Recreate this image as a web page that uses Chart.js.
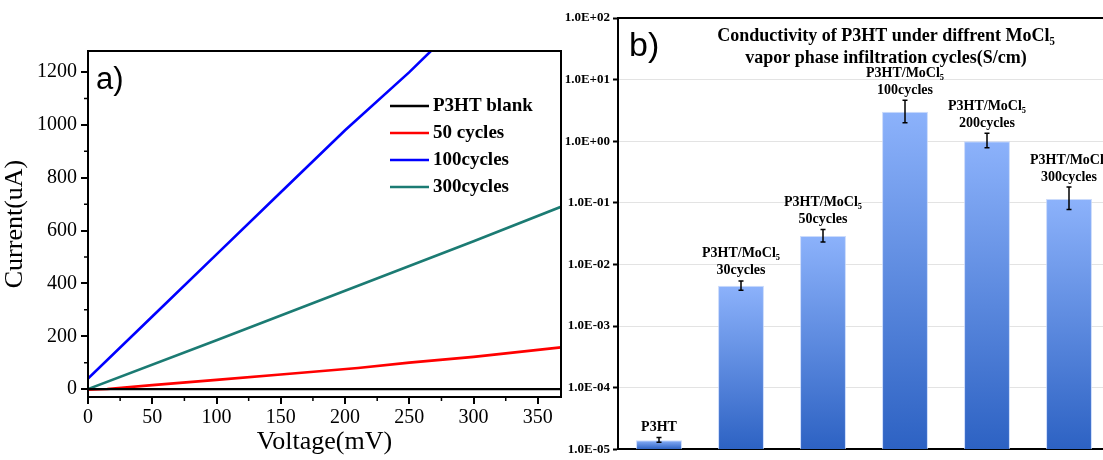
<!DOCTYPE html>
<html lang="en">
<head>
<meta charset="UTF-8">
<title>P3HT / MoCl5 conductivity</title>
<style>
    body {
        margin: 0;
        padding: 0;
        background: #fff;
        width: 1103px;
        height: 460px;
        overflow: hidden;
        position: relative;
    }
    #wrapA { position: absolute; left: 0; top: 0; width: 566px; height: 460px; }
    #wrapB { position: absolute; left: 560px; top: 0; width: 550px; height: 460px; }
</style>
<script src="https://cdn.jsdelivr.net/npm/chart.js"></script>
</head>
<body>
<div id="wrapA"><canvas id="chartA"></canvas></div>
<div id="wrapB"><canvas id="chartB"></canvas></div>
<script>
// ---- panel a) I-V curves ----
var seriesNames = ['P3HT blank', '50 cycles', '100cycles', '300cycles'];
var seriesColors = ['#000000', '#ff0000', '#0000ff', '#1b7b73'];
var voltBlank = [0, 368];
var currBlank = [0, 0];
var volt50 = [0, 15, 50, 100, 150, 210, 250, 300, 368];
var curr50 = [-2, 0, 15, 35, 55, 80, 100, 122, 158];
var volt100 = [0, 50, 100, 150, 200, 250, 290];
var curr100 = [40, 275, 510, 745, 980, 1200, 1390];
var volt300 = [0, 100, 200, 300, 368];
var curr300 = [0, 185, 372, 560, 690];
var voltTicks = [0, 50, 100, 150, 200, 250, 300, 350];
var currTicks = [0, 200, 400, 600, 800, 1000, 1200];

// ---- panel b) conductivity ----
var barLabels = [
    ['P3HT'],
    ['P3HT/MoCl\u2085', '30cycles'],
    ['P3HT/MoCl\u2085', '50cycles'],
    ['P3HT/MoCl\u2085', '100cycles'],
    ['P3HT/MoCl\u2085', '200cycles'],
    ['P3HT/MoCl\u2085', '300cycles']
];
var conductivity = [1.4e-5, 4.5e-3, 2.9e-2, 3.0, 1.0, 0.115];
var errLow = [1.3e-5, 3.8e-3, 2.3e-2, 2.0, 0.78, 0.078];
var errHigh = [1.55e-5, 5.4e-3, 3.7e-2, 4.6, 1.35, 0.18];
var decadeTicks = [1e-5, 1e-4, 1e-3, 1e-2, 1e-1, 1e0, 1e1, 1e2];
var titleLines = ['Conductivity of P3HT under diffrent MoCl\u2085', 'vapor phase infiltration cycles(S/cm)'];

var serif = "'Liberation Serif', 'Times New Roman', serif";
var sans = "'Liberation Sans', Arial, sans-serif";

function toPoints(xs, ys) {
    return xs.map(function (x, i) { return { x: x, y: ys[i] }; });
}

var xsAll = [voltBlank, volt50, volt100, volt300];
var ysAll = [currBlank, curr50, curr100, curr300];

// frame, minor ticks, legend and "a)" for the left panel
var panelAExtras = {
    id: 'panelAExtras',
    afterDraw: function (chart) {
        var c = chart.ctx, a = chart.chartArea;
        var xs = chart.scales.x, ys = chart.scales.y;
        c.save();
        c.strokeStyle = '#000';
        c.lineWidth = 2;
        c.strokeRect(a.left, a.top, a.right - a.left, a.bottom - a.top);

        // minor ticks
        c.lineWidth = 1.5;
        c.beginPath();
        for (var v = 100; v < 1300; v += 200) {
            var py = ys.getPixelForValue(v);
            c.moveTo(a.left, py); c.lineTo(a.left - 4, py);
        }
        for (var u = 25; u < 368; u += 50) {
            var px = xs.getPixelForValue(u);
            c.moveTo(px, a.bottom); c.lineTo(px, a.bottom + 4);
        }
        c.stroke();

        // legend
        c.font = 'bold 19px ' + serif;
        c.textBaseline = 'middle';
        c.textAlign = 'left';
        chart.data.datasets.forEach(function (ds, i) {
            var y = 106 + i * 27;
            c.strokeStyle = ds.borderColor;
            c.lineWidth = 2.5;
            c.beginPath();
            c.moveTo(390, y); c.lineTo(429, y);
            c.stroke();
            c.fillStyle = '#000';
            c.fillText(ds.label, 433, y);
        });

        c.font = '31px ' + sans;
        c.fillText('a)', 96, 80);
        c.restore();
    }
};

new Chart(document.getElementById('chartA').getContext('2d'), {
    type: 'line',
    data: {
        datasets: seriesNames.map(function (name, i) {
            return {
                label: name,
                data: toPoints(xsAll[i], ysAll[i]),
                borderColor: seriesColors[i],
                borderWidth: i === 0 ? 2.2 : 2.6,
                pointRadius: 0,
                tension: 0
            };
        })
    },
    options: {
        responsive: true,
        maintainAspectRatio: false,
        animation: false,
        layout: { padding: { top: 51, right: 5, left: 0, bottom: 0 } },
        plugins: { legend: { display: false }, tooltip: { enabled: false } },
        scales: {
            x: {
                type: 'linear',
                min: 0,
                max: 368,
                afterBuildTicks: function (s) { s.ticks = voltTicks.map(function (v) { return { value: v }; }); },
                afterFit: function (s) { s.height = 63; },
                ticks: { color: '#000', font: { family: serif, size: 20 }, padding: 2, callback: function (v) { return String(v); } },
                grid: { display: true, drawOnChartArea: false, tickLength: 7, color: '#000', lineWidth: 2 },
                border: { color: '#000', width: 2 },
                title: { display: true, text: 'Voltage(mV)', color: '#000', font: { family: serif, size: 26 }, padding: { top: 0, bottom: 2 } }
            },
            y: {
                type: 'linear',
                min: -30,
                max: 1280,
                afterBuildTicks: function (s) { s.ticks = currTicks.map(function (v) { return { value: v }; }); },
                afterFit: function (s) { s.width = 88; },
                ticks: { color: '#000', font: { family: serif, size: 20 }, padding: 4, callback: function (v) { return String(v); } },
                grid: { display: true, drawOnChartArea: false, tickLength: 7, color: '#000', lineWidth: 2 },
                border: { color: '#000', width: 2 },
                title: { display: true, text: 'Current(uA)', color: '#000', font: { family: serif, size: 26 }, padding: { top: 0, bottom: 0 } }
            }
        }
    },
    plugins: [panelAExtras]
});

// error bars, labels and title for the right panel
var panelBExtras = {
    id: 'panelBExtras',
    afterDatasetsDraw: function (chart) {
        var c = chart.ctx, a = chart.chartArea, ys = chart.scales.y;
        var meta = chart.getDatasetMeta(0);
        c.save();
        // top border at 1.0E+02
        c.strokeStyle = '#000';
        c.lineWidth = 2;
        c.beginPath();
        c.moveTo(a.left, a.top); c.lineTo(a.right, a.top);
        c.stroke();

        c.lineWidth = 1.5;
        c.font = 'bold 14px ' + serif;
        c.textAlign = 'center';
        c.textBaseline = 'middle';
        c.fillStyle = '#000';
        meta.data.forEach(function (bar, i) {
            var yl = ys.getPixelForValue(errLow[i]);
            var yh = ys.getPixelForValue(errHigh[i]);
            c.beginPath();
            c.moveTo(bar.x, yl); c.lineTo(bar.x, yh);
            c.moveTo(bar.x - 2.5, yl); c.lineTo(bar.x + 2.5, yl);
            c.moveTo(bar.x - 2.5, yh); c.lineTo(bar.x + 2.5, yh);
            c.stroke();
            var lines = chart.data.labels[i];
            for (var j = 0; j < lines.length; j++) {
                var ty = yh - 10 - (lines.length - 1 - j) * 17;
                c.fillText(lines[j], bar.x, ty);
            }
        });

        c.font = 'bold 18px ' + serif;
        c.fillText(titleLines[0], 326, 36);
        c.fillText(titleLines[1], 326, 58);

        c.textAlign = 'left';
        c.font = '34px ' + sans;
        c.fillText('b)', 69, 47);
        c.restore();
    }
};

new Chart(document.getElementById('chartB').getContext('2d'), {
    type: 'bar',
    data: {
        labels: barLabels,
        datasets: [{
            label: 'Conductivity (S/cm)',
            data: conductivity,
            barPercentage: 0.56,
            categoryPercentage: 1,
            borderColor: 'rgba(190,210,250,0.8)',
            borderWidth: 1,
            backgroundColor: function (ctx) {
                var chart = ctx.chart, area = chart.chartArea;
                if (!area || ctx.raw === undefined) return '#6f9be8';
                var top = chart.scales.y.getPixelForValue(ctx.raw);
                var g = chart.ctx.createLinearGradient(0, top, 0, area.bottom);
                g.addColorStop(0, '#8cb2fb');
                g.addColorStop(1, '#2d62c3');
                return g;
            }
        }]
    },
    options: {
        responsive: true,
        maintainAspectRatio: false,
        animation: false,
        layout: { padding: { top: 18, right: 0, left: 0, bottom: 0 } },
        plugins: { legend: { display: false }, tooltip: { enabled: false } },
        scales: {
            x: {
                ticks: { display: false },
                grid: { display: false },
                border: { color: '#000', width: 2 },
                afterFit: function (s) { s.height = 4; }
            },
            y: {
                type: 'logarithmic',
                min: 1e-5,
                max: 1e2,
                afterBuildTicks: function (s) { s.ticks = decadeTicks.map(function (v) { return { value: v }; }); },
                afterFit: function (s) { s.width = 58; },
                ticks: {
                    color: '#000',
                    font: { family: serif, size: 13, weight: 'bold' },
                    padding: 3,
                    callback: function (v) {
                        var e = Math.round(Math.log10(v));
                        return '1.0E' + (e < 0 ? '-' : '+') + String(Math.abs(e)).padStart(2, '0');
                    }
                },
                grid: { color: '#e3e3e3', lineWidth: 1, tickLength: 5, tickColor: '#000', tickWidth: 2 },
                border: { color: '#000', width: 2 }
            }
        }
    },
    plugins: [panelBExtras]
});
</script>
</body>
</html>
